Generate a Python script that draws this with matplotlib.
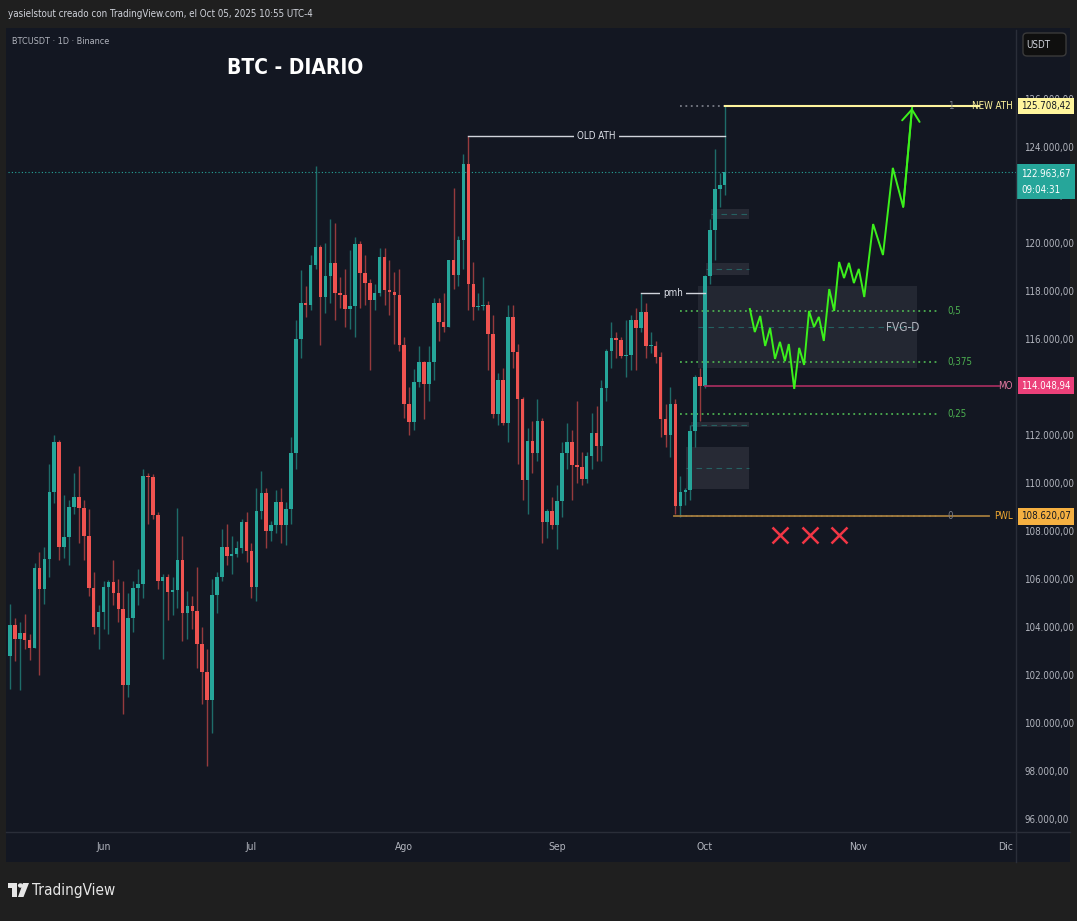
import matplotlib
matplotlib.use('Agg')
import matplotlib.pyplot as plt
import matplotlib.dates as mdates
import matplotlib.transforms as mtransforms
from matplotlib.patches import Rectangle, FancyBboxPatch, Polygon, Circle
from matplotlib.lines import Line2D
from matplotlib import font_manager
import pandas as pd

# TradingView text is narrow: use a condensed face if one is installed, else Roboto
narrow = [f for f in font_manager.fontManager.ttflist
          if 'narrow' in f.name.lower() or 'condensed' in f.name.lower()
          or f.stretch in ('condensed', 'semi-condensed', 'extra-condensed')]
if narrow:
    plt.rcParams['font.family'] = [narrow[0].name, 'Roboto', 'DejaVu Sans']
    plt.rcParams['font.stretch'] = narrow[0].stretch
else:
    plt.rcParams['font.family'] = ['Roboto', 'DejaVu Sans']

# ---------------- data: BTCUSDT daily candles ----------------
DATES = pd.date_range('2025-05-12', '2025-10-05', freq='D')
FIRST_OPEN = 104118

CLOSES = [
    # May 12-31
    102791, 104103, 103507, 103763, 103463, 103126, 106454, 105573, 106849, 109643,
    111696, 107318, 107761, 109004, 109434, 108938, 107782, 105641, 103998, 104638,
    # Jun
    105652, 105882, 105432, 104731, 101575, 104390, 105615, 105793, 110295, 110257,
    108686, 105929, 106091, 105472, 105552, 106796, 104601, 104883, 104658, 103310,
    102120, 100963, 105333, 106084, 107340, 106947, 107047, 107296, 108356, 107146,
    # Jul
    105681, 108849, 109584, 107985, 108231, 109203, 108262, 108923, 111233, 115987,
    117516, 117435, 119086, 119841, 117759, 118630, 119177, 117925, 117840, 117265,
    117380, 119954, 118755, 118340, 117614, 117919, 119415, 118062, 117950, 117840,
    115764,
    # Aug
    113297, 112546, 114208, 115055, 114129, 115028, 117496, 116688, 116505, 119306,
    118686, 120134, 123306, 118295, 117342, 117380, 117405, 116227, 112872, 114271,
    112500, 116935, 115438, 113493, 110111, 111763, 111262, 112566, 108377, 108817,
    108246,
    # Sep
    109237, 111240, 111705, 110730, 110660, 110187, 111137, 112065, 111546, 113960,
    115498, 116030, 115950, 115280, 115350, 116790, 116470, 117140, 115690, 115720,
    115250, 112660, 111990, 113300, 109050, 109640, 109690, 112160, 114400, 114050,
    # Oct 1-5
    118640, 120530, 122270, 122400, 122964,
]

HIGHS = [
    105819, 104976, 104356, 104192, 104550, 103709, 106660, 107108, 107320, 110797,
    111980, 111800, 109507, 109300, 110400, 110718, 109300, 108900, 106300, 104900,
    105900, 105950, 106800, 106000, 105900, 105400, 105900, 106400, 110600, 110400,
    110392, 108800, 106200, 106200, 106100, 108952, 107800, 105500, 105300, 106500,
    104000, 103100, 106000, 106300, 108100, 108300, 107800, 107600, 108500, 108800,
    107500, 109800, 110500, 109800, 108400, 109700, 109800, 109200, 111900, 116800,
    118869, 118200, 119488, 123218, 119900, 120000, 120998, 120850, 118600, 118900,
    119700, 120250, 120100, 119500, 118500, 118300, 119800, 119800, 119300, 118800,
    118900,
    116100, 114000, 114750, 115700, 115100, 115700, 117700, 117700, 117900, 119300,
    122300, 120300, 123700, 124474, 119200, 117900, 118600, 117600, 117000, 114600,
    114800, 117400, 117400, 115800, 113600, 112300, 112600, 113500, 112700, 108900,
    109400,
    109900, 111700, 112500, 112200, 113400, 111300, 111300, 112900, 113200, 114300,
    115600, 116700, 116300, 116100, 116800, 117000, 117300, 117900, 117500, 116300,
    115900, 115450, 113300, 114000, 113500, 110300, 109800, 112400, 114500, 114800,
    118650, 121000, 123900, 122900, 125708,
]

LOWS = [
    100718, 101429, 102602, 101383, 103100, 102612, 103105, 102000, 104970, 106100,
    109177, 106800, 106880, 106600, 108700, 107500, 106800, 105300, 103700, 103100,
    103900, 103700, 104900, 104200, 100372, 101100, 103800, 104900, 105200, 108300,
    108500, 105600, 102664, 104300, 104500, 104800, 103400, 103500, 103900, 102300,
    100800, 98200, 99600, 104600, 105900, 106600, 106200, 106900, 107100, 106700,
    105200, 105100, 108500, 107300, 107600, 107900, 107500, 107400, 108300, 110600,
    115200, 116900, 117200, 118900, 115736, 117100, 117500, 116800, 117300, 116500,
    116400, 116100, 117300, 117400, 114723, 117200, 117800, 117400, 117000, 115800,
    115500,
    112700, 112000, 112200, 114000, 112650, 113400, 114300, 115900, 116300, 116500,
    118100, 118200, 118900, 117200, 116800, 117200, 117200, 114700, 112700, 112400,
    112400, 111700, 114800, 110800, 109300, 108700, 110400, 110900, 107500, 107700,
    108100,
    107270, 108600, 110600, 109300, 110000, 109900, 110000, 110600, 110900, 110900,
    113400, 114800, 115200, 115200, 114400, 114700, 114700, 116300, 115200, 115400,
    115000, 111900, 111500, 111100, 108700, 108600, 109100, 109300, 111500, 112600,
    113970, 118300, 119300, 121500, 122000,
]

LAST_PRICE = 122963.67
LAST_TIME = '09:04:31'

# drawn levels
OLD_ATH = 124474
NEW_ATH = 125708.42
MO = 114048.94
PWL = 108620.07
PMH = 117900
FIB_LEVELS = [0, 0.25, 0.375, 0.5, 1]
FIB_LABELS = ['0', '0,25', '0,375', '0,5', '1']

# (start, end, low, high) zones
FVG_ZONE = ('2025-09-29 14:00', '2025-11-13', 114800, 118200)
SMALL_ZONES = [
    ('2025-10-02 05:00', '2025-10-10', 121000, 121420),
    ('2025-10-01 05:00', '2025-10-10', 118670, 119170),
    ('2025-09-28 05:00', '2025-10-10', 112330, 112540),
    ('2025-09-27 05:00', '2025-10-10', 109750, 111500),
]

# projected path (days after Oct 1, price)
PATH_DAYS = [9.1, 10.1, 11.2, 12.2, 13.2, 14.2, 15.2, 16.2, 17.0, 18.1, 19.1, 20.1,
             21.1, 22.1, 23.1, 24.1, 25.2, 26.2, 27.2, 28.2, 29.2, 30.2, 31.2, 32.3,
             34.1, 36.1, 38.1, 40.2, 42.0]
PATH_PRICES = [117250, 116290, 116960, 115710, 116460, 115170, 115880, 115080, 115790,
               113920, 115630, 114920, 117170, 116500, 116920, 115920, 118080, 117170,
               119210, 118540, 119170, 118330, 118920, 117750, 120790, 119500, 123130,
               121500, 125630]
X_DAYS = [15.2, 21.2, 27.2]
X_PRICE = 107830

PRICE_TICKS = list(range(96000, 126001, 2000))
HIDDEN_TICKS = [114000]  # sits under the MO tag
MONTH_TICKS = ['2025-06-01', '2025-07-01', '2025-08-01', '2025-09-01',
               '2025-10-01', '2025-11-01', '2025-12-01']
MONTH_LABELS = ['Jun', 'Jul', 'Ago', 'Sep', 'Oct', 'Nov', 'Dic']

# ---------------- styles ----------------
BG_OUT = '#1f1f1f'
CHART_BG = '#131722'
SEP = '#2a2e39'
TXT = '#b2b5be'
UP = '#26a69a'
DOWN = '#ef5350'
GREEN = '#3cf01c'
FIB_GREEN = '#4caf50'
YELLOW = '#fff59d'

W, H = 1077, 921


def fx(px):
    return px / W


def fy(py):
    return 1 - py / H


fig = plt.figure(figsize=(W / 100, H / 100), dpi=100, facecolor=BG_OUT)
fig.patches.append(Rectangle((fx(6), fy(862)), fx(1070) - fx(6), fy(28) - fy(862),
                             transform=fig.transFigure, fc=CHART_BG, ec='none', zorder=-10))

ax = fig.add_axes([fx(8), fy(832), fx(1016) - fx(8), fy(30) - fy(832)])
ax.set_facecolor(CHART_BG)
for s in ax.spines.values():
    s.set_visible(False)

oct1 = mdates.date2num(pd.Timestamp('2025-10-01'))
PX_DAY = 4.93
ax.set_xlim(oct1 - (705 - 8) / PX_DAY, oct1 + (1016 - 705) / PX_DAY)
ax.set_ylim(124000 - (832 - 147) / 24 * 1000, 124000 + (147 - 30) / 24 * 1000)


def d(s):
    return mdates.date2num(pd.Timestamp(s))


# ---------------- candles ----------------
x = mdates.date2num(DATES)
opens = [FIRST_OPEN] + CLOSES[:-1]
cols = [UP if c >= o else DOWN for o, c in zip(opens, CLOSES)]
ax.vlines(x, LOWS, HIGHS, colors=cols, lw=1, alpha=0.6, zorder=3)
bottoms = [min(o, c) for o, c in zip(opens, CLOSES)]
heights = [max(abs(c - o), 45) for o, c in zip(opens, CLOSES)]
ax.bar(x, heights, bottom=bottoms, width=0.72, color=cols, lw=0, zorder=4)

# current price line
ax.axhline(LAST_PRICE, color=UP, ls=(0, (1, 2)), lw=0.8, zorder=2)

# ---------------- zones ----------------
s, e, lo, hi = FVG_ZONE
ax.add_patch(Rectangle((d(s), lo), d(e) - d(s), hi - lo, fc='#787b86', alpha=0.16,
                       ec='none', zorder=2))
ax.plot([d(s), d(e)], [(lo + hi) / 2] * 2, color=UP, alpha=0.45, lw=0.8,
        ls=(0, (5, 4)), zorder=2)
ax.text(d('2025-11-10'), (lo + hi) / 2, 'FVG-D', color=TXT, fontsize=8.5,
        ha='center', va='center', zorder=6)
for s, e, lo, hi in SMALL_ZONES:
    ax.add_patch(Rectangle((d(s), lo), d(e) - d(s), hi - lo, fc='#787b86', alpha=0.2,
                           ec='none', zorder=2))
    ax.plot([d(s), d(e)], [(lo + hi) / 2] * 2, color=UP, alpha=0.45, lw=0.8,
            ls=(0, (5, 4)), zorder=2)

# ---------------- fibonacci ----------------
fib_start, fib_end, fib_lab = d('2025-09-26'), oct1 + 47.7, oct1 + 49.2
for lvl, lab in zip(FIB_LEVELS, FIB_LABELS):
    p = PWL + (NEW_ATH - PWL) * lvl
    c = FIB_GREEN if 0 < lvl < 1 else '#787b86'
    ax.plot([fib_start, fib_end], [p, p], color=c, ls=(0, (1, 2)), lw=1.3, zorder=3)
    ax.text(fib_lab, p, lab, color=c, fontsize=7, ha='left', va='center', zorder=6)

# ---------------- horizontal levels ----------------
trans_lab = oct1 + (1013 - 705) / PX_DAY
line_end = oct1 + (979 - 705) / PX_DAY
ax.plot([d('2025-10-05'), line_end], [NEW_ATH] * 2, color=YELLOW, lw=1.5, zorder=5)
ax.text(trans_lab, NEW_ATH, 'NEW ATH', color=YELLOW, fontsize=7, ha='right',
        va='center', zorder=6)
ax.plot([d('2025-10-01'), line_end + 4], [MO] * 2, color='#a02d5c', lw=1.3, zorder=5)
ax.text(trans_lab, MO, 'MO', color='#e47aa2', fontsize=7, ha='right', va='center',
        zorder=6)
ax.plot([d('2025-09-25') - 0.3, line_end + 2], [PWL] * 2, color='#a27b3c', lw=1.3,
        zorder=5)
ax.text(trans_lab, PWL, 'PWL', color='#f0a830', fontsize=7, ha='right', va='center',
        zorder=6)

# old ATH and pmh
ax.plot([d('2025-08-14'), d('2025-10-05')], [OLD_ATH] * 2, color='#d1d4dc', lw=1, zorder=5)
ax.text(d('2025-09-09'), OLD_ATH, 'OLD ATH', color='#e0e3eb', fontsize=7, ha='center',
        va='center', zorder=6,
        bbox=dict(boxstyle='square,pad=0.3', fc=CHART_BG, ec='none'))
ax.plot([d('2025-09-18'), d('2025-10-01')], [PMH] * 2, color='#d1d4dc', lw=1, zorder=5)
ax.text(d('2025-09-24 12:00'), PMH, 'pmh', color='#e0e3eb', fontsize=7, ha='center',
        va='center', zorder=6,
        bbox=dict(boxstyle='square,pad=0.3', fc=CHART_BG, ec='none'))

# ---------------- projection ----------------
px_ = [oct1 + v for v in PATH_DAYS]
ax.plot(px_, PATH_PRICES, color=GREEN, lw=1.4, zorder=7, solid_joinstyle='miter')
ax.annotate('', xy=(px_[-1], PATH_PRICES[-1]), xytext=(px_[-2], PATH_PRICES[-2]),
            arrowprops=dict(arrowstyle='->,head_length=0.6,head_width=0.45', color=GREEN,
                            lw=1.4, shrinkA=0, shrinkB=0, mutation_scale=14), zorder=7)
ax.plot([oct1 + v for v in X_DAYS], [X_PRICE] * len(X_DAYS), ls='none', marker='x',
        ms=12, mew=1.8, color='#f23645', zorder=7)

# ---------------- axes ticks ----------------
ax.yaxis.tick_right()
ax.set_yticks(PRICE_TICKS)
ax.set_yticklabels(['' if v in HIDDEN_TICKS else
                    f'{v:,.2f}'.replace(',', 'X').replace('.', ',').replace('X', '.')
                    for v in PRICE_TICKS])
ax.tick_params(axis='y', length=0, pad=6, labelsize=7, labelcolor=TXT)
ax.set_xticks([d(m) for m in MONTH_TICKS])
ax.set_xticklabels(MONTH_LABELS)
ax.tick_params(axis='x', length=0, pad=7, labelsize=7.5, labelcolor=TXT)

# price tags on the axis
blend = mtransforms.blended_transform_factory(ax.transAxes, ax.transData)
tag_tr = mtransforms.offset_copy(blend, fig=fig, x=5, y=0, units='dots')


def tag(price, text, bg, fg, va='center', y=None, pad=0.35):
    ax.text(1.0, price if y is None else y, text, transform=tag_tr, color=fg, fontsize=7,
            ha='left', va=va, zorder=10, clip_on=False, linespacing=1.75,
            bbox=dict(boxstyle=f'square,pad={pad}', fc=bg, ec='none'))


tag(NEW_ATH, '125.708,42', YELLOW, '#131722')
tag(MO, '114.048,94', '#ec407a', 'white')
tag(PWL, '108.620,07', '#f5b041', '#131722')
tag(LAST_PRICE, '122.963,67\n' + LAST_TIME, UP, 'white', va='top', y=123100, pad=0.45)

# separators
fig.add_artist(Line2D([fx(1016), fx(1016)], [fy(30), fy(862)], color=SEP, lw=1))
fig.add_artist(Line2D([fx(6), fx(1070)], [fy(832), fy(832)], color=SEP, lw=1))

# ---------------- header / titles ----------------
fig.text(fx(8), fy(14), 'yasielstout creado con TradingView.com, el Oct 05, 2025 10:55 UTC-4',
         color='#d1d4dc', fontsize=7, va='center', ha='left')
fig.text(fx(12), fy(42), 'BTCUSDT · 1D · Binance', color=TXT, fontsize=6.5,
         va='center', ha='left')
fig.text(fx(295), fy(68), 'BTC - DIARIO', color='white', fontsize=15, fontweight='bold',
         va='center', ha='center')

fig.patches.append(FancyBboxPatch((fx(1023), fy(56)), fx(1066) - fx(1023), fy(33) - fy(56),
                                  boxstyle='round,pad=0,rounding_size=0.004',
                                  transform=fig.transFigure, fc='#0f0f0f', ec='#3a3a3a',
                                  lw=1, zorder=3))
fig.text(fx(1038), fy(44.5), 'USDT', color='#d1d4dc', fontsize=7, va='center', ha='center')

# TradingView logo
logo = '#e6e6e6'
fig.patches.append(Rectangle((fx(8), fy(888)), fx(17) - fx(8), fy(883) - fy(888),
                             transform=fig.transFigure, fc=logo, ec='none'))
fig.patches.append(Rectangle((fx(12), fy(897)), fx(17) - fx(12), fy(888) - fy(897),
                             transform=fig.transFigure, fc=logo, ec='none'))
fig.patches.append(Circle((fx(20.5), fy(885.5)), fx(2.6), transform=fig.transFigure,
                          fc=logo, ec='none'))
fig.patches.append(Polygon([(fx(23), fy(883)), (fx(29), fy(883)), (fx(23.5), fy(897)),
                            (fx(18), fy(897))], closed=True, transform=fig.transFigure,
                           fc=logo, ec='none'))
fig.text(fx(32), fy(890), 'TradingView', color=logo, fontsize=11, va='center',
         ha='left')

fig.savefig('out.png', dpi=100, facecolor=BG_OUT)
